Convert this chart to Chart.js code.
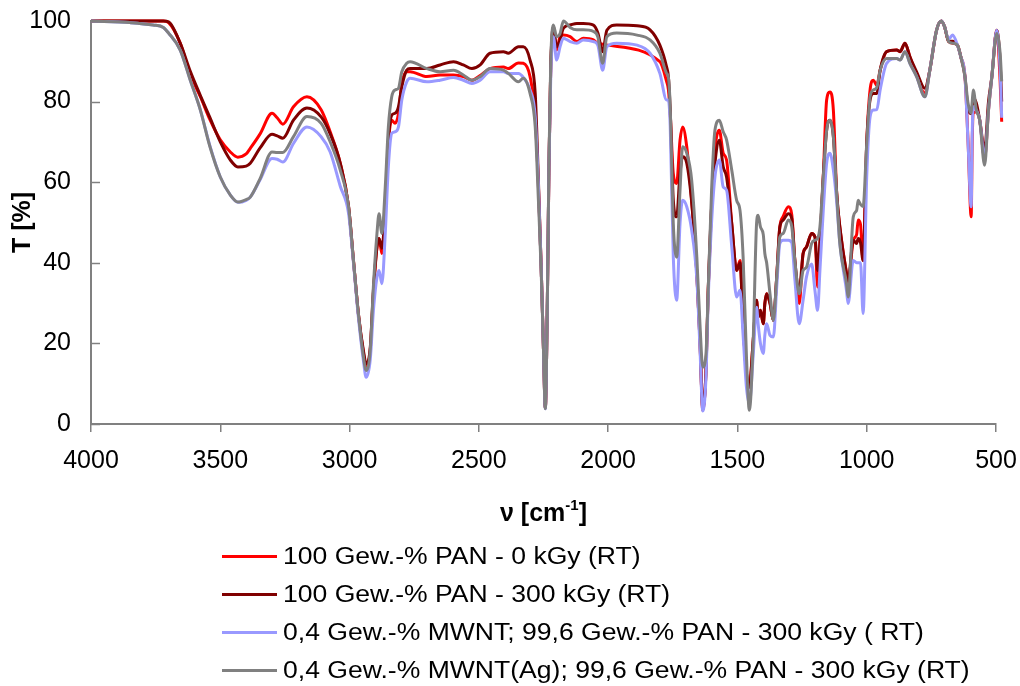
<!DOCTYPE html>
<html>
<head>
<meta charset="utf-8">
<script src="https://cdn.jsdelivr.net/npm/chart.js@4.4.1/dist/chart.umd.min.js"></script>
<style>
  body { margin: 0; background: #fff; }
  #wrap { position: relative; width: 1020px; height: 686px; overflow: hidden; }
  #spectra { position: absolute; left: 0; top: 0; }
  #legend { position: absolute; left: 222px; top: 538px; font: 23.5px "Liberation Sans", Arial, sans-serif; color: #000; }
  .row { display: flex; align-items: center; height: 37.8px; white-space: nowrap; }
  .swatch { width: 55px; height: 3px; margin-right: 6px; flex: none; }
  .label { transform: scaleX(1.13); transform-origin: left center; }
</style>
</head>
<body>
<div id="wrap">
  <canvas id="spectra" width="1020" height="686"></canvas>
  <div id="legend"></div>
</div>
<script>
// wavenumbers in cm-1, shared by all four spectra
const wavenumbers = [
  4000, 3850, 3760, 3720, 3700, 3655, 3616, 3577, 3540, 3500,
  3461, 3432, 3400, 3384, 3346, 3300, 3280, 3258, 3217, 3165,
  3110, 3075, 3036, 3004, 2985, 2966, 2946, 2936, 2920, 2908,
  2894, 2886, 2875, 2862, 2850, 2837, 2824, 2811, 2798, 2779,
  2766, 2701, 2650, 2598, 2560, 2527, 2495, 2457, 2405, 2386,
  2347, 2328, 2302, 2282, 2270, 2259, 2250, 2243, 2235, 2229,
  2222, 2212, 2199, 2186, 2173, 2147, 2121, 2096, 2057, 2040,
  2021, 2005, 1967, 1888, 1838, 1800, 1774, 1767, 1760, 1748,
  1735, 1722, 1712, 1696, 1677, 1657, 1645, 1634, 1622, 1613,
  1600, 1587, 1570, 1555, 1542, 1522, 1503, 1490, 1478, 1465,
  1454, 1439, 1426, 1420, 1411, 1400, 1394, 1387, 1374, 1361,
  1348, 1336, 1323, 1303, 1290, 1278, 1261, 1246, 1233, 1213,
  1200, 1190, 1181, 1168, 1155, 1142, 1129, 1116, 1104, 1078,
  1072, 1052, 1039, 1033, 1024, 1014, 1000, 987, 974, 961,
  948, 923, 884, 871, 852, 833, 807, 775, 756, 730,
  711, 699, 683, 668, 649, 636, 620, 608, 596, 592,
  588, 576, 563, 544, 529, 516, 497, 484, 478
];

// transmission T [%]
const pan0kGy = [
  100, 100, 100, 100, 99.6, 94.5, 86.6, 81.2, 75.5, 70.5,
  67.5, 66.2, 67, 68.4, 72, 77.1, 76, 74.4, 78.7, 81.2,
  78, 72.5, 64.7, 54, 40.6, 27.4, 17.5, 14.1, 18.3, 32.3,
  43.9, 46, 42.3, 53, 69.5, 75.4, 74.6, 77, 84.5, 87.4,
  87.4, 86.2, 86.6, 86.6, 86.2, 85.3, 86.5, 88.2, 88.6, 88.2,
  89.6, 89.5, 86.2, 76.2, 59.7, 39, 18.3, 4, 30.7, 63.8,
  88.6, 96, 92.8, 96.1, 96.5, 96.1, 94.9, 95.7, 95.3, 94.5,
  null, null, null, null, null, 89.9, 85, 83, 77, 62.1,
  59.7, 70.4, 73.7, 68.8, 55.5, 37.3, 20.7, 3.4, 12.5, 33.2,
  53.9, 68, 72.9, 67.2, 65.5, 49.7, 38.1, 40.6, 24.9, 12.5,
  9.1, 20.7, 30.7, 26.5, 28.2, 24.9, 29.9, 32.3, 29.9, 25.7,
  36.5, 48.9, 51.5, 53.9, 52, 40.6, 29.9, 42.3, 43.9, 47.3,
  46.4, 34, 44.8, 61.3, 80.4, 82.4, 77.9, 57.2, 48.9, 37.3,
  34.8, 45.6, 47, 50.6, 49.5, 40.6, 69.6, 82.9, 85.3, 84,
  87.8, 92.4, 92.8, 92.4, 94.5, 91.1, 86.5, 82, 87.8, 97.7,
  100, 98.6, 94.9, 94.5, 94, 91.1, 86.2, 70, 51.4, 70,
  77.1, 77.5, 75.4, 66, 77.9, 86.2, 97.7, 85, 75
];

const pan300kGy = [
  100, 100, 100, 100, 99.8, 94.5, 87.5, 81.5, 76, 70,
  65.5, 63.8, 64, 64.7, 68.5, 71.9, 71.5, 70.9, 75.4, 78.4,
  76.2, 72, 64.7, 54, 40.6, 27.4, 18, 15, 19, 33,
  43.9, 46, 43.6, 53.9, 70.4, 76.6, 77.1, 78.7, 83.7, 87.8,
  88.2, 88.2, 89.1, 89.9, 89.1, 88.2, 89.1, 92, 92.4, 92,
  93.6, 93.6, 90.3, 82, 61, 39, 18.3, 4, 30.7, 63.8,
  88.6, 98.6, 93.6, 95.3, 98.2, 99, 99.4, 99.4, 99, 97.1,
  92.4, 97.7, 99, 98.8, 97.8, 94, 88.6, 86.2, 78, 55.5,
  51.4, 62.2, 66.3, 64.7, 55, 37.3, 20.7, 4, 12.5, 33.2,
  53.9, 64.7, 70.4, 63.8, 61.3, 49.7, 38.1, 40, 24.9, 12.5,
  9.1, 20.7, 30.7, 26.5, 28.2, 24.9, 29.9, 32.3, 29.9, 25.7,
  36.5, 48.9, 50.6, 52.2, 51, 40.6, 33.2, 42.3, 43.9, 47.3,
  46.4, 38.1, 44.8, 61.3, 72.9, 75.4, 71.3, 57.2, 48.9, 37.3,
  35.5, 45.6, 44.8, 46, 45, 40.6, 69.6, 80.4, 82, 82,
  87.8, 92.4, 92.8, 92.4, 94.5, 91.1, 87.4, 83.3, 87.8, 97.7,
  100, 98.6, 94.9, 95, 94, 91.1, 86.2, 78, 77, 78.5,
  80.9, 79.6, 75.4, 68, 80, 86.2, 97.7, 90, 80
];

const mwnt300kGy = [
  100, 99.6, 99, 98.4, 97, 92.8, 85.3, 77.9, 69, 61.3,
  56.8, 55, 55.5, 56.3, 60.6, 65.9, 65.7, 65, 69.6, 73.7,
  71.3, 67.5, 59, 52.3, 40, 26.5, 15.5, 11.6, 16, 28,
  36.5, 38.1, 34.8, 47.3, 63.8, 72.1, 72.5, 73.7, 80.4, 84.9,
  85.8, 84.9, 85.3, 86, 85.3, 84.5, 85.3, 87.4, 87.4, 87,
  87, 86, 82.9, 76.2, 59.7, 39, 18.3, 3.8, 30.7, 63.8,
  86, 96.1, 90.3, 93.6, 95.7, 94.9, 94.5, 95.3, 94.9, 94,
  87.8, 93.6, 94.5, 94, 92, 87, 80.4, 80.4, 74, 41.4,
  30.7, 49.7, 55.5, 53.9, 48.1, 36, 19, 3.2, 11, 31,
  50, 61.3, 65.5, 58.8, 58, 44, 31.5, 33.2, 22, 9,
  5, 17, 29, 24.9, 20, 17.5, 22, 24.9, 22, 21.6,
  34, 44.8, 45.6, 45.6, 45, 36, 24.9, 30.7, 36.5, 39.7,
  33, 28.2, 38, 53, 64.7, 67.2, 63, 55, 44.8, 33,
  29.9, 40.6, 40, 40, 40, 27.4, 61.3, 76.2, 77.9, 78,
  82.9, 89.5, 90.7, 90.3, 92.4, 89.5, 86.2, 81.2, 87.8, 97.7,
  100, 98.6, 95.5, 96.5, 94, 91.1, 86.2, 69.6, 53.9, 72,
  78.7, 77.9, 75.4, 66, 77.9, 86.2, 97.7, 88, 76
];

const mwntAg300kGy = [
  100, 99.6, 99, 98.4, 97, 92.8, 85.3, 77.9, 68.8, 61.3,
  56.8, 55.1, 55.7, 56.3, 60.9, 67.5, 67.4, 67.4, 71.3, 76.3,
  74.6, 70, 63, 54, 40.6, 27.4, 16.5, 13.3, 18.3, 34,
  47.3, 52.2, 47.3, 58.8, 73.7, 81.2, 82.9, 83.3, 87.4, 89.5,
  89.9, 88.2, 87.4, 87.8, 86.6, 85.3, 86.2, 88.2, 87.8, 87,
  84.9, 85.8, 82, 73.7, 56, 38, 18, 3.8, 30.7, 65,
  90, 99, 96.1, 96.9, 100, 98.4, 97.8, 97.8, 97.4, 96.1,
  89.5, 96.1, 97, 96.5, 95.3, 92, 87, 86, 78.7, 49.7,
  41.4, 58, 68.8, 67.2, 60.5, 41.4, 24.9, 14.1, 17, 33.2,
  58, 72.9, 75.4, 72.5, 70.5, 63, 55.5, 53, 41.4, 16.6,
  3.4, 20.7, 49.7, 51.8, 48.9, 47, 42.3, 40, 32.3, 25.7,
  36.5, 46.4, 47.3, 50.6, 49, 40.6, 32.3, 38.1, 38.9, 44.8,
  45.6, 46, 48.9, 61.3, 72.9, 75.4, 71.3, 57, 44.8, 34.8,
  31.5, 51.4, 53, 55.5, 54.5, 54, 69.6, 81.2, 82.9, 83.5,
  87.8, 90.7, 90.7, 90.3, 92.4, 89.5, 86.2, 81.2, 87.8, 97.7,
  100, 98.6, 94.9, 94.5, 94, 91.1, 86.2, 79.6, 77.1, 80,
  82.9, 77.9, 75.4, 64.2, 77.9, 86.2, 96.9, 92, 85
];

const seriesNames = [
  '100 Gew.-% PAN - 0 kGy (RT)',
  '100 Gew.-% PAN - 300 kGy (RT)',
  '0,4 Gew.-% MWNT; 99,6 Gew.-% PAN - 300 kGy ( RT)',
  '0,4 Gew.-% MWNT(Ag); 99,6 Gew.-% PAN - 300 kGy (RT)'
];
const seriesValues = [pan0kGy, pan300kGy, mwnt300kGy, mwntAg300kGy];
const seriesColors = ['#ff0000', '#800000', '#9999ff', '#808080'];

const xTicks = [4000, 3500, 3000, 2500, 2000, 1500, 1000, 500];
const yTicks = [0, 20, 40, 60, 80, 100];

const FONT = '"Liberation Sans", Arial, sans-serif';
const AXIS_GREY = '#808080';

function points(values) {
  return wavenumbers.map((nu, i) => ({ x: nu, y: values[i] }));
}

// y ticks point into the plot area, so they are drawn by hand
const innerYTicks = {
  id: 'innerYTicks',
  afterDraw(chart) {
    const ctx = chart.ctx;
    const y = chart.scales.y;
    ctx.save();
    ctx.strokeStyle = AXIS_GREY;
    ctx.lineWidth = 1.5;
    yTicks.forEach(v => {
      const py = Math.round(y.getPixelForValue(v)) + 0.5;
      ctx.beginPath();
      ctx.moveTo(y.right, py);
      ctx.lineTo(y.right + 9, py);
      ctx.stroke();
    });
    ctx.restore();
  }
};

// axis titles, x title needs a superscript
const axisTitles = {
  id: 'axisTitles',
  afterDraw(chart) {
    const ctx = chart.ctx;
    const area = chart.chartArea;
    ctx.save();
    ctx.fillStyle = '#000';

    ctx.font = 'bold 25px ' + FONT;
    ctx.textBaseline = 'middle';
    ctx.textAlign = 'center';
    ctx.translate(23, (area.top + area.bottom) / 2);
    ctx.rotate(-Math.PI / 2);
    ctx.fillText('T [%]', 0, 0);
    ctx.setTransform(1, 0, 0, 1, 0, 0);

    const main = 'ν [cm';
    const sup = '-1';
    const close = ']';
    ctx.textAlign = 'left';
    ctx.textBaseline = 'alphabetic';
    ctx.font = 'bold 25px ' + FONT;
    const wMain = ctx.measureText(main).width;
    const wClose = ctx.measureText(close).width;
    ctx.font = 'bold 15px ' + FONT;
    const wSup = ctx.measureText(sup).width;
    const total = wMain + wSup + wClose;
    let x = (area.left + area.right) / 2 - total / 2;
    const base = 521;
    ctx.font = 'bold 25px ' + FONT;
    ctx.fillText(main, x, base);
    x += wMain;
    ctx.font = 'bold 15px ' + FONT;
    ctx.fillText(sup, x, base - 11);
    x += wSup;
    ctx.font = 'bold 25px ' + FONT;
    ctx.fillText(close, x, base);
    ctx.restore();
  }
};

const datasets = seriesValues.map((values, i) => ({
  label: seriesNames[i],
  data: points(values),
  borderColor: seriesColors[i],
  backgroundColor: seriesColors[i],
  borderWidth: 3,
  pointRadius: 0,
  cubicInterpolationMode: 'monotone',
  spanGaps: true,
  borderJoinStyle: 'round',
  clip: { left: 0, top: 4, right: 10, bottom: 4 },
  order: seriesValues.length - i
}));

const chart = new Chart(document.getElementById('spectra'), {
  type: 'line',
  data: { datasets: datasets },
  options: {
    responsive: false,
    animation: false,
    events: [],
    layout: { padding: { left: 0, right: 24, top: 21, bottom: 0 } },
    plugins: {
      legend: { display: false },
      tooltip: { enabled: false }
    },
    scales: {
      x: {
        type: 'linear',
        reverse: true,
        min: 500,
        max: 4000,
        afterBuildTicks: scale => { scale.ticks = xTicks.map(v => ({ value: v })); },
        afterFit: scale => {
          scale.height = 262;
          // keep the end labels from squeezing the plot sideways
          scale.paddingLeft = 0;
          scale.paddingRight = 0;
        },
        border: { display: true, color: AXIS_GREY, width: 2 },
        grid: { drawOnChartArea: false, drawTicks: true, tickLength: 8, color: AXIS_GREY, lineWidth: 1.5 },
        ticks: {
          color: '#000', font: { family: FONT, size: 25 }, padding: 14, maxRotation: 0, autoSkip: false,
          callback: value => String(value)
        }
      },
      y: {
        min: 0,
        max: 100,
        afterBuildTicks: scale => { scale.ticks = yTicks.map(v => ({ value: v })); },
        afterFit: scale => {
          scale.width = 91;
          // label padding would otherwise push the plot top down
          scale.paddingTop = 0;
          scale.paddingBottom = 0;
        },
        border: { display: true, color: AXIS_GREY, width: 2 },
        grid: { drawOnChartArea: false, drawTicks: false },
        ticks: { color: '#000', font: { family: FONT, size: 25 }, padding: 20, callback: value => String(value) }
      }
    }
  },
  plugins: [innerYTicks, axisTitles]
});

// legend rows below the plot
const legend = document.getElementById('legend');
seriesNames.forEach((name, i) => {
  const row = document.createElement('div');
  row.className = 'row';
  const swatch = document.createElement('span');
  swatch.className = 'swatch';
  swatch.style.background = seriesColors[i];
  const label = document.createElement('span');
  label.className = 'label';
  label.textContent = name;
  row.appendChild(swatch);
  row.appendChild(label);
  legend.appendChild(row);
});
</script>
</body>
</html>
